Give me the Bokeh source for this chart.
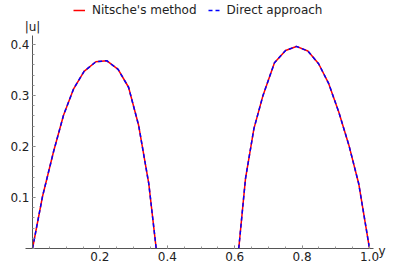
from bokeh.plotting import figure
from bokeh.models import FixedTicker, Label, Legend, LegendItem
from bokeh.embed import file_html
from bokeh.resources import INLINE
import numpy as np

nan = float("nan")

y_pos = [0.0, 0.030, 0.0625, 0.092, 0.122, 0.153, 0.188, 0.220, 0.254, 0.285, 0.315, 0.345, 0.367,
         nan,
         0.612, 0.632, 0.657, 0.684, 0.718, 0.751, 0.783, 0.817, 0.849, 0.879, 0.909, 0.939, 0.968, 1.0]
nitsche_u = [0.0, 0.103, 0.190, 0.261, 0.313, 0.347, 0.366, 0.368, 0.351, 0.316, 0.241, 0.127, 0.0,
             nan,
             0.0, 0.137, 0.235, 0.300, 0.364, 0.388, 0.396, 0.387, 0.362, 0.323, 0.267, 0.202, 0.127, 0.0]
direct_u = [0.0, 0.103, 0.190, 0.261, 0.313, 0.347, 0.366, 0.368, 0.351, 0.316, 0.241, 0.127, 0.0,
            nan,
            0.0, 0.137, 0.235, 0.300, 0.364, 0.388, 0.396, 0.387, 0.362, 0.323, 0.267, 0.202, 0.127, 0.0]

x_ticks = [0.2, 0.4, 0.6, 0.8, 1.0]
x_tick_labels = ["0.2", "0.4", "0.6", "0.8", "1.0"]
y_ticks = [0.1, 0.2, 0.3, 0.4]
y_tick_labels = ["0.1", "0.2", "0.3", "0.4"]
series_names = ["Nitsche's method", "Direct approach"]
x_axis_label = "y"
y_axis_label = "|u|"

FONT = "DejaVu Sans"

p = figure(width=399, height=265, x_range=(-0.095, 1.089), y_range=(-0.0333, 0.486),
           output_backend="svg", toolbar_location=None,
           min_border_left=0, min_border_right=0, min_border_top=0, min_border_bottom=0)
p.outline_line_color = None
p.xgrid.visible = False
p.ygrid.visible = False
p.background_fill_color = "white"

r1 = p.line(y_pos, nitsche_u, line_color="#ff0000", line_width=1.5)
r2 = p.line(y_pos, direct_u, line_color="#0000ff", line_width=1.5, line_dash="4 3")

p.xaxis.fixed_location = 0
p.yaxis.fixed_location = 0
p.xaxis.bounds = (-0.02, 1.012)
p.yaxis.bounds = (0, 0.418)

p.xaxis.ticker = FixedTicker(ticks=x_ticks, minor_ticks=list(np.round(np.arange(0, 1.0001, 0.05), 3)))
p.yaxis.ticker = FixedTicker(ticks=y_ticks, minor_ticks=list(np.round(np.arange(0, 0.4001, 0.02), 3)))
p.xaxis.major_label_overrides = dict(zip(x_ticks, x_tick_labels))
p.yaxis.major_label_overrides = dict(zip(y_ticks, y_tick_labels))

for ax in (p.xaxis, p.yaxis):
    ax.axis_line_color = "#555555"
    ax.axis_line_width = 1
    ax.major_tick_line_color = "#777777"
    ax.minor_tick_line_color = "#999999"
    ax.major_tick_in = 3
    ax.major_tick_out = 0
    ax.minor_tick_in = 2
    ax.minor_tick_out = 0
    ax.major_label_text_font = FONT
    ax.major_label_text_font_size = "12px"
    ax.major_label_text_color = "#222222"
    ax.major_label_standoff = 3

legend = Legend(items=[LegendItem(label=series_names[0], renderers=[r1]),
                       LegendItem(label=series_names[1], renderers=[r2])],
                orientation="horizontal", location=(73, 248),
                glyph_width=12, glyph_height=14, label_height=14,
                label_standoff=7, spacing=11, padding=0, margin=0,
                border_line_color=None, background_fill_alpha=0,
                label_text_font=FONT, label_text_font_size="12px", label_text_color="#222222")
p.add_layout(legend, "center")

p.add_layout(Label(x=0, y=0.418, text=y_axis_label, text_align="center", text_baseline="bottom",
                   y_offset=1, text_font=FONT, text_font_size="12px", text_color="#222222"))
p.add_layout(Label(x=1.012, y=0, text=x_axis_label, text_align="left", text_baseline="alphabetic",
                   x_offset=5, y_offset=-2, text_font=FONT, text_font_size="12px", text_color="#222222"))

open("out.html", "w").write(file_html(p, INLINE))
